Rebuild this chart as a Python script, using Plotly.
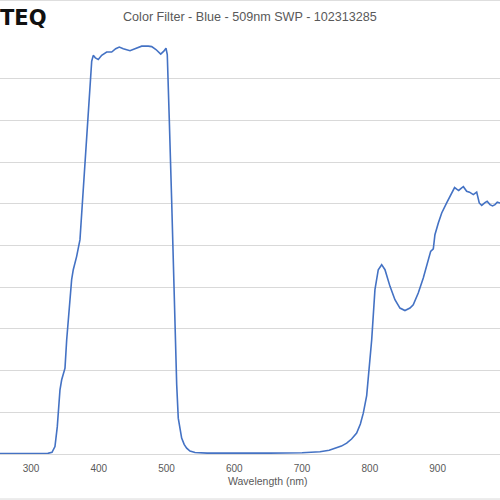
import plotly.graph_objects as go

# Wavelength (nm) and transmission (%)
wavelength = [254, 300, 325, 331, 333, 335.4, 338.8, 342.8, 345.3, 347.7, 350.2, 352.7, 356.5, 360,
              362.4, 367.4, 372.3, 378, 383, 386, 389.6, 391.9, 395, 399.3, 404.3, 411.7, 419.1,
              425, 430.3, 436.2, 446.1, 453.4, 463.3, 473.1, 478.1, 484.4, 491.4, 496, 499.2,
              501.1, 502.6, 504, 507.6, 510, 512.5, 515, 517.3, 520, 522.3, 526, 529.7, 534.6,
              542, 560, 600, 652.6, 700, 726.4, 740, 751, 758, 765.8, 773, 780.5, 786, 790.3,
              795.3, 802.7, 807.5, 812.4, 817.4, 822.3, 829.7, 837, 844.4, 851.8, 859.2, 864,
              871.4, 878.8, 886.2, 889.7, 893.6, 896, 901, 906, 913.3, 920.7, 925, 928.1, 931,
              935.5, 938, 942.8, 947, 952.6, 957.6, 961.4, 965, 969.8, 973, 977.2, 981, 984.6,
              988, 992, 1000]
transmission = [0.1, 0.1, 0.15, 0.4, 0.9, 1.8, 6.5, 15.4, 17.8, 19.4, 20.6, 27.4, 35.3, 41.8,
                44.2, 47.4, 51.4, 66, 79, 86.2, 94.2, 95.6, 95.0, 94.6, 95.6, 96.4, 96.4,
                97.2, 97.6, 97.2, 96.7, 97.2, 97.8, 97.8, 97.7, 97.0, 95.9, 96.6, 97.3,
                95.8, 90, 80.6, 60.6, 44.6, 28.6, 16.6, 8.6, 5.5, 3.8, 2.3, 1.4, 0.7,
                0.35, 0.2, 0.15, 0.2, 0.3, 0.55, 0.9, 1.4, 1.9, 2.6, 3.6, 5, 7.2, 9.8,
                14, 27.4, 39.4, 44.2, 45.4, 44.2, 40.2, 37, 35, 34.4, 35, 35.8,
                38.6, 42.2, 46.6, 48.6, 49.2, 52.6, 55.4, 57.8, 60.2, 62.6, 63.9, 63.5, 63.2,
                63.8, 64.1, 63, 62.8, 62.2, 62.8, 60.2, 59.6, 60.3, 60.6, 59.8, 59.5, 59.8,
                60.4, 60.2, 60.0]

x_ticks = [300, 400, 500, 600, 700, 800, 900, 1000]
title_text = "Color Filter - Blue - 509nm SWP - 102313285"
x_title = "Wavelength (nm)"
logo_text = "TEQ"

fig = go.Figure()
fig.add_trace(go.Scatter(x=wavelength, y=transmission, mode="lines",
                         line=dict(color="#4472C4", width=1.6), hoverinfo="skip"))

top_px, bottom_px = 37.3, 454
h = bottom_px - top_px
def py(px):
    return (bottom_px - px) / h

fig.update_layout(
    width=500, height=500,
    margin=dict(l=0, r=0, t=top_px, b=500 - bottom_px, pad=0),
    paper_bgcolor="white", plot_bgcolor="white",
    showlegend=False,
    font=dict(family="Liberation Sans", color="#595959"),
    xaxis=dict(range=[254.3, 992], tickvals=x_ticks, showgrid=False, zeroline=False,
               showline=True, linecolor="#d9d9d9", linewidth=1,
               ticks="outside", ticklen=5, tickcolor="rgba(0,0,0,0)",
               tickfont=dict(size=10, color="#595959")),
    yaxis=dict(range=[0, 100], dtick=10, showgrid=True, gridcolor="#d9d9d9", gridwidth=1,
               zeroline=False, showticklabels=False, showline=False),
    annotations=[
        dict(text=title_text, x=0.5, y=py(17.5), xref="paper", yref="paper",
             xanchor="center", yanchor="middle", showarrow=False,
             font=dict(size=12.6, color="#595959", family="Liberation Sans")),
        dict(text=x_title, x=268 / 500, y=py(481), xref="paper", yref="paper",
             xanchor="center", yanchor="middle", showarrow=False,
             font=dict(size=10.5, color="#595959", family="Liberation Sans")),
        dict(text="<b>" + logo_text + "</b>", x=0, y=py(18), xref="paper", yref="paper",
             xanchor="left", yanchor="middle", showarrow=False, xshift=-2,
             font=dict(size=21, color="#111111", family="DejaVu Sans")),
    ],
    shapes=[
        dict(type="line", xref="paper", yref="paper", x0=0, x1=1, y0=py(0.7), y1=py(0.7),
             line=dict(color="#d9d9d9", width=1)),
        dict(type="line", xref="paper", yref="paper", x0=0, x1=1, y0=py(499), y1=py(499),
             line=dict(color="#d9d9d9", width=1)),
    ],
)

fig.write_html("out.html", config={"displayModeBar": False},
               post_script="document.body.style.margin='0';")
